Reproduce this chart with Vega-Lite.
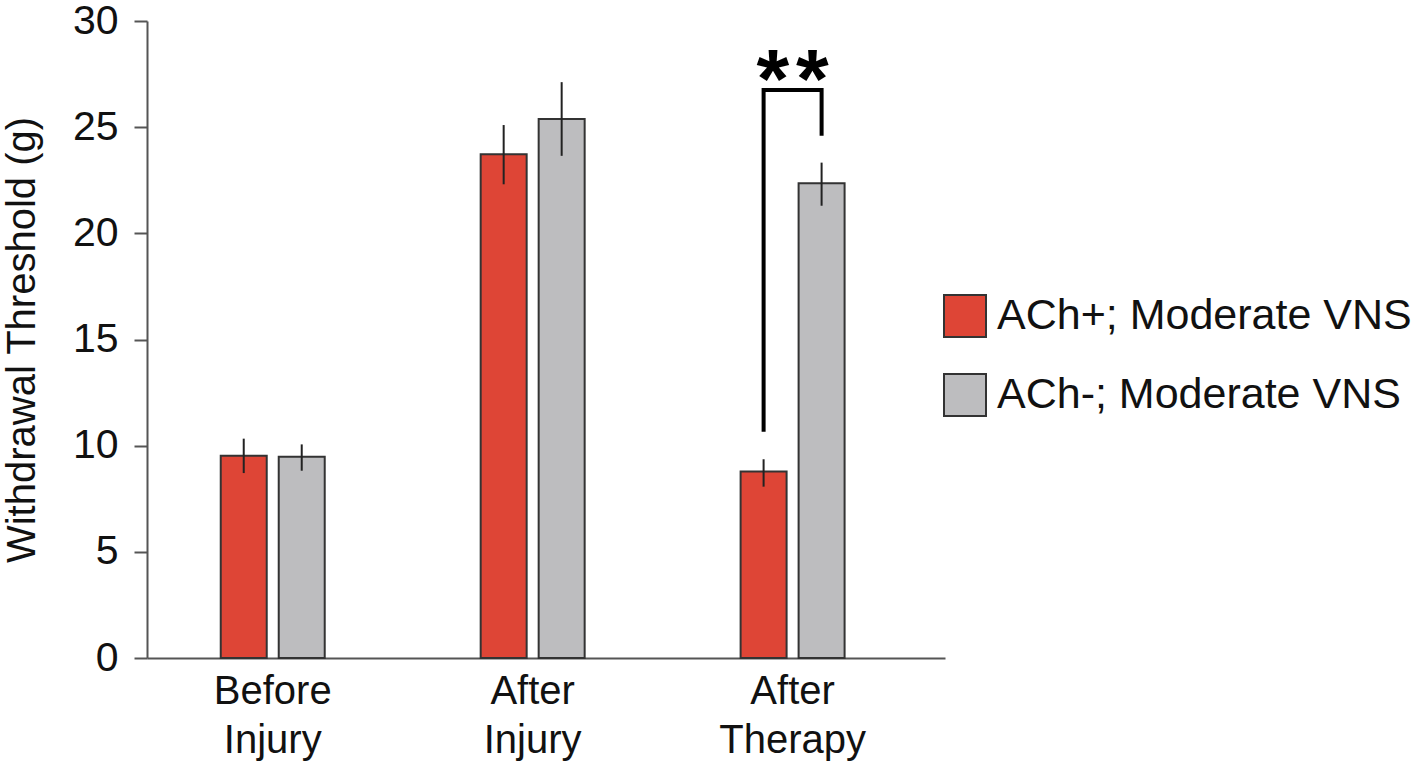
{
  "$schema": "https://vega.github.io/schema/vega-lite/v6.json",
  "autosize": "none",
  "width": 798,
  "height": 637,
  "padding": {"left": 147, "top": 21, "right": 476, "bottom": 108},
  "background": "white",
  "config": {
    "view": {"stroke": null},
    "font": "Liberation Sans"
  },
  "datasets": {
    "bars": [
      {"cat": "Before Injury", "group": "ACh+; Moderate VNS", "value": 9.52, "lo": 8.71, "hi": 10.33},
      {"cat": "Before Injury", "group": "ACh-; Moderate VNS", "value": 9.48, "lo": 8.82, "hi": 10.06},
      {"cat": "After Injury", "group": "ACh+; Moderate VNS", "value": 23.72, "lo": 22.31, "hi": 25.1},
      {"cat": "After Injury", "group": "ACh-; Moderate VNS", "value": 25.39, "lo": 23.65, "hi": 27.12},
      {"cat": "After Therapy", "group": "ACh+; Moderate VNS", "value": 8.78, "lo": 8.07, "hi": 9.36},
      {"cat": "After Therapy", "group": "ACh-; Moderate VNS", "value": 22.36, "lo": 21.3, "hi": 23.33}
    ],
    "bracket": [
      {"cat": "After Therapy", "group": "ACh+; Moderate VNS", "y": 10.66, "order": 1},
      {"cat": "After Therapy", "group": "ACh+; Moderate VNS", "y": 26.75, "order": 2},
      {"cat": "After Therapy", "group": "ACh-; Moderate VNS", "y": 26.75, "order": 3},
      {"cat": "After Therapy", "group": "ACh-; Moderate VNS", "y": 24.6, "order": 4}
    ],
    "sig": [
      {"cat": "After Therapy", "y": 25.9, "label": "*\u200a*"}
    ]
  },
  "encoding": {
    "x": {
      "field": "cat",
      "type": "nominal",
      "sort": ["Before Injury", "After Injury", "After Therapy"],
      "scale": {"paddingInner": 0.5, "paddingOuter": 0.285, "align": 0.41},
      "axis": {
        "title": null,
        "labelAngle": 0,
        "labelExpr": "split(datum.label, ' ')",
        "labelFontSize": 40,
        "labelLineHeight": 49,
        "labelColor": "#111",
        "labelPadding": 13,
        "ticks": false,
        "domainColor": "#555",
        "domainWidth": 2
      }
    }
  },
  "layer": [
    {
      "data": {"name": "bars"},
      "mark": {"type": "bar", "stroke": "#333", "strokeWidth": 2},
      "encoding": {
        "xOffset": {
          "field": "group",
          "type": "nominal",
          "sort": ["ACh+; Moderate VNS", "ACh-; Moderate VNS"],
          "scale": {"paddingInner": 0.207, "paddingOuter": 0.224}
        },
        "y": {
          "field": "value",
          "type": "quantitative",
          "scale": {"domain": [0, 30], "nice": false},
          "axis": {
            "title": "Withdrawal Threshold (g)",
            "titleFontSize": 40,
            "titleFontWeight": "normal",
            "titleColor": "#111",
            "titlePadding": 30,
            "values": [0, 5, 10, 15, 20, 25, 30],
            "labelFontSize": 41,
            "labelColor": "#111",
            "labelPadding": 16,
            "tickSize": 13,
            "tickWidth": 2,
            "tickColor": "#555",
            "domainColor": "#555",
            "domainWidth": 2,
            "grid": false
          }
        },
        "color": {
          "field": "group",
          "type": "nominal",
          "sort": ["ACh+; Moderate VNS", "ACh-; Moderate VNS"],
          "scale": {"range": ["#DE4536", "#BDBDBF"]},
          "legend": {
            "title": null,
            "orient": "none",
            "legendX": 796,
            "legendY": 273,
            "padding": 0,
            "symbolType": "square",
            "symbolSize": 1764,
            "symbolStrokeColor": "#333",
            "symbolStrokeWidth": 2,
            "symbolOpacity": 1,
            "labelFontSize": 43,
            "labelColor": "#111",
            "labelOffset": 10,
            "labelLimit": 600,
            "rowPadding": 29
          }
        }
      }
    },
    {
      "data": {"name": "bars"},
      "mark": {"type": "rule", "color": "#222", "strokeWidth": 2},
      "encoding": {
        "xOffset": {"field": "group", "type": "nominal", "sort": ["ACh+; Moderate VNS", "ACh-; Moderate VNS"]},
        "y": {"field": "lo", "type": "quantitative"},
        "y2": {"field": "hi"}
      }
    },
    {
      "data": {"name": "bracket"},
      "mark": {"type": "line", "color": "#000", "strokeWidth": 4, "strokeJoin": "miter", "strokeCap": "butt"},
      "encoding": {
        "xOffset": {"field": "group", "type": "nominal", "sort": ["ACh+; Moderate VNS", "ACh-; Moderate VNS"]},
        "y": {"field": "y", "type": "quantitative"},
        "order": {"field": "order", "type": "quantitative"}
      }
    },
    {
      "data": {"name": "sig"},
      "mark": {"type": "text", "fontSize": 84, "fontWeight": "bold", "color": "#000", "baseline": "alphabetic", "align": "center"},
      "encoding": {
        "y": {"field": "y", "type": "quantitative"},
        "text": {"field": "label"}
      }
    }
  ]
}
